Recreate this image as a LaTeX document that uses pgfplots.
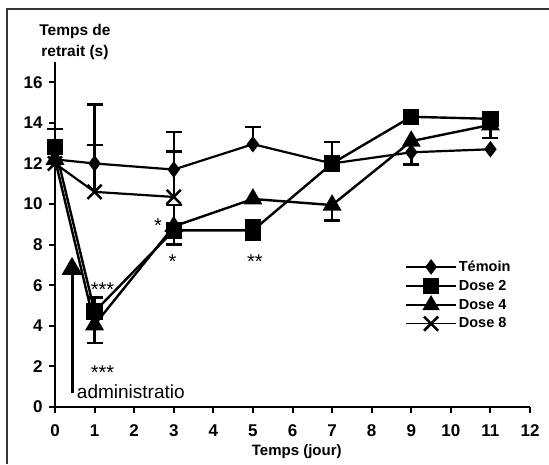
\documentclass[border=0pt]{standalone}
\usepackage{pgfplots}
\pgfplotsset{compat=1.18}
\usepackage{fontspec}
\setmainfont{Liberation Sans}
\usetikzlibrary{arrows.meta}
\begin{document}
\begin{tikzpicture}
\useasboundingbox (0pt,0pt) rectangle (549pt,464pt);
\draw[line width=1.2pt, black!80] (7pt,0pt) -- (7pt,455pt) -- (549pt,455pt);
\begin{axis}[
  at={(55pt,57pt)}, anchor=south west,
  scale only axis, width=475pt, height=345pt,
  xmin=0, xmax=12, ymin=0, ymax=17,
  axis lines=left, axis line style={-, line width=2pt},
  xtick={0,1,...,12}, ytick={0,2,...,16},
  tick style={line width=2pt, black},
  tick align=outside, major tick length=6pt,
  /pgf/number format/assume math mode=true,
  tick label style={font=\bfseries\fontsize{17}{17}\selectfont},
  xticklabel style={yshift=-8pt},
  yticklabel style={xshift=-3pt},
  xlabel={Temps (jour)},
  xlabel style={at={(rel axis cs:0.509,-0.128)}, anchor=center, font=\bfseries\fontsize{15}{15}\selectfont},
  ylabel={Temps de\\retrait (s)},
  ylabel style={rotate=-90, at={(rel axis cs:0.042,1.058)}, anchor=center, align=center, font=\bfseries\fontsize{15.5}{21}\selectfont},
  clip=false,
  legend style={at={(rel axis cs:0.737,0.43)}, anchor=north west, draw=none, fill=none,
    font=\bfseries\fontsize{14.5}{14.5}\selectfont, row sep=3pt, inner sep=0pt,
    cells={anchor=west}},
  legend image code/.code={\draw[#1,mark repeat=2,mark phase=2,line width=1.6pt] plot coordinates {(0pt,0pt)(25pt,0pt)(50pt,0pt)};},
  every axis plot/.append style={black},
]
% error bars (upper)
\addplot[draw=none, mark=none, forget plot, error bars/.cd, y dir=plus, y explicit,
  error mark=-, error mark options={line width=2.5pt, mark size=8pt, rotate=90}, error bar style={line width=2.5pt}]
  coordinates {
  (0,12.8) +- (0,0.9)
  (1,12.0) +- (0,2.9)
  (1,10.6) +- (0,2.3)
  (3,11.7) +- (0,1.85)
  (3,10.35) +- (0,2.25)
  (3,8.9) +- (0,1.05)
  (5,12.95) +- (0,0.85)
  (1,4.7) +- (0,0.7)
  (5,8.7) +- (0,0.5)
  (7,12.0) +- (0,1.05)
  };
% error bars (lower)
\addplot[draw=none, mark=none, forget plot, error bars/.cd, y dir=minus, y explicit,
  error mark=-, error mark options={line width=2.5pt, mark size=8pt, rotate=90}, error bar style={line width=2.5pt}]
  coordinates {
  (1,4.0) +- (0,0.85)
  (3,8.7) +- (0,0.7)
  (5,8.7) +- (0,0.45)
  (7,9.95) +- (0,0.75)
  (9,12.55) +- (0,0.6)
  (11,13.9) +- (0,0.65)
  };
\addplot[line width=2.2pt, mark=diamond*, mark size=6.5pt, mark options={solid}]
  coordinates {(0,12.2) (1,12.0) (3,11.7) (5,12.95) (7,12.0) (9,12.55) (11,12.7)};
\addlegendentry{Témoin}
\addplot[line width=2.4pt, mark=triangle*, mark size=8.5pt, forget plot]
  coordinates {(0,12.2) (1,4.05) (3,8.9) (5,10.25) (7,9.95) (9,13.1) (11,13.9)};
\addplot[line width=2.4pt, mark=square*, mark size=7pt]
  coordinates {(0,12.8) (1,4.7) (3,8.7) (5,8.7) (7,12.0) (9,14.3) (11,14.2)};
\addlegendentry{Dose 2}
\addlegendimage{line width=2.2pt, mark=triangle*, mark size=8.5pt}
\addlegendentry{Dose 4}
\addplot[line width=2.2pt, mark=x, mark size=10pt, mark options={line width=2.5pt}]
  coordinates {(0,12.0) (1,10.6) (3,10.35)};
\addlegendentry{Dose 8}
% annotations
\draw[line width=3pt, -{Triangle[width=20pt,length=18pt]}] (axis cs:0.43,0.7) -- (axis cs:0.43,7.4);
\node[anchor=west, font=\fontsize{19}{19}\selectfont, inner sep=0pt] at (axis cs:0.55,0.75) {administratio};
\node[font=\fontsize{20}{20}\selectfont, inner sep=0pt] at (axis cs:1.2,5.8) {***};
\node[font=\fontsize{20}{20}\selectfont, inner sep=0pt] at (axis cs:1.2,1.7) {***};
\node[font=\fontsize{20}{20}\selectfont, inner sep=0pt] at (axis cs:2.6,8.95) {*};
\node[font=\fontsize{20}{20}\selectfont, inner sep=0pt] at (axis cs:2.97,7.15) {*};
\node[font=\fontsize{20}{20}\selectfont, inner sep=0pt] at (axis cs:5.05,7.15) {**};
\end{axis}
\end{tikzpicture}
\end{document}
